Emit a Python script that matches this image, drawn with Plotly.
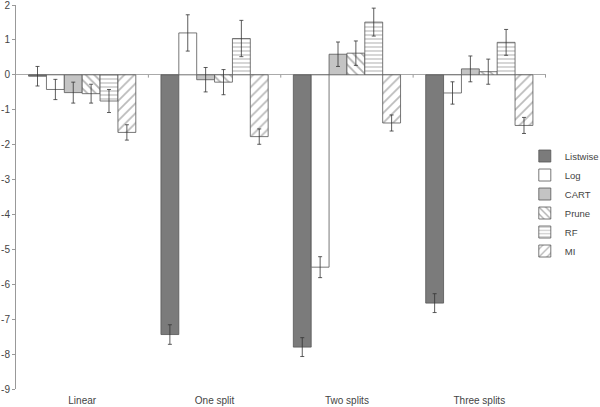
import plotly.graph_objects as go

categories = ["Linear", "One split", "Two splits", "Three splits"]
series = ["Listwise", "Log", "CART", "Prune", "RF", "MI"]

listwise = [-0.04, -7.44, -7.80, -6.54]
log_ = [-0.42, 1.20, -5.51, -0.52]
cart = [-0.51, -0.14, 0.59, 0.17]
prune = [-0.54, -0.21, 0.62, 0.09]
rf = [-0.75, 1.04, 1.51, 0.93]
mi = [-1.65, -1.77, -1.38, -1.45]

listwise_err = [0.28, 0.28, 0.27, 0.27]
log_err = [0.29, 0.52, 0.30, 0.32]
cart_err = [0.30, 0.35, 0.35, 0.37]
prune_err = [0.27, 0.36, 0.35, 0.36]
rf_err = [0.33, 0.52, 0.40, 0.37]
mi_err = [0.22, 0.22, 0.23, 0.23]

y_ticks = list(range(-9, 3))
y_tick_labels = [str(t) for t in y_ticks]

values = [listwise, log_, cart, prune, rf, mi]
errors = [listwise_err, log_err, cart_err, prune_err, rf_err, mi_err]

fills = ["#7b7b7b", "#ffffff", "#c4c4c4", "#ffffff", "#ffffff", "#ffffff"]
patterns = [
    dict(shape=""),
    dict(shape=""),
    dict(shape=""),
    dict(shape="\\", size=6, solidity=0.3, fgcolor="#666666", bgcolor="#ffffff"),
    dict(shape="-", size=4, solidity=0.3, fgcolor="#777777", bgcolor="#ffffff"),
    dict(shape="/", size=7, solidity=0.25, fgcolor="#777777", bgcolor="#ffffff"),
]

fig = go.Figure()
for name, v, e, c, p in zip(series, values, errors, fills, patterns):
    fig.add_trace(go.Bar(
        name=name, x=categories, y=v,
        marker=dict(color=c, pattern=p, line=dict(color="#555555", width=0.8)),
        error_y=dict(type="data", array=e, visible=True, color="#333333",
                     thickness=0.8, width=2),
    ))

# small tick marks on the zero line between category groups
for i in range(len(categories)):
    fig.add_shape(type="line", xref="x", yref="y",
                  x0=i + 0.5, x1=i + 0.5, y0=0, y1=-0.08,
                  line=dict(color="#999999", width=1))

fig.update_layout(
    width=600, height=407,
    margin=dict(l=16, r=54, t=5, b=18, autoexpand=False),
    paper_bgcolor="white", plot_bgcolor="white",
    barmode="group", bargap=0.19, bargroupgap=0,
    font=dict(family="Liberation Sans, Arial, sans-serif", size=10, color="#444444"),
    showlegend=True,
    legend=dict(x=0.96, y=0.483, xanchor="left", yanchor="middle",
                font=dict(size=9.5, color="#444444"),
                itemwidth=30, tracegroupgap=0, bgcolor="rgba(0,0,0,0)"),
    xaxis=dict(showline=False, ticks="", showgrid=False, zeroline=False,
               automargin=False, ticklabelstandoff=4,
               tickfont=dict(size=10, color="#444444")),
    yaxis=dict(range=[-9.0, 2.0], tickvals=y_ticks, ticktext=y_tick_labels,
               showgrid=False, automargin=False, ticklabeloverflow="allow",
               showline=True, linecolor="#999999", linewidth=1,
               ticks="outside", ticklen=3, tickcolor="#999999",
               zeroline=True, zerolinecolor="#aaaaaa", zerolinewidth=1,
               tickfont=dict(size=10, color="#444444")),
)

fig.write_html("out.html", config={"displayModeBar": False},
               post_script="document.body.style.margin='0px';document.body.style.padding='0px';")
